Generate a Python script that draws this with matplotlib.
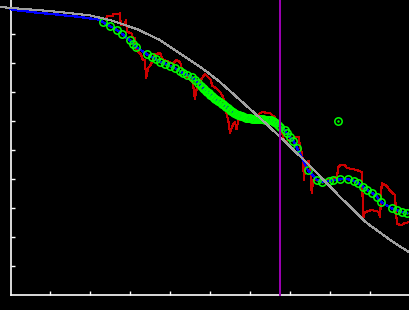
import numpy as np
import matplotlib
matplotlib.use("Agg")
import matplotlib.pyplot as plt

# reference curve (gray)
ref_x = [-0.26, 0.36, 0.99, 1.49, 1.99, 2.49, 3.16, 3.74, 4.49, 4.89, 5.24,
         5.74, 6.24, 6.74, 7.49, 8.24, 8.91, 9.49, 9.99]
ref_y = [9.93, 9.86, 9.79, 9.72, 9.64, 9.48, 9.17, 8.79, 8.10, 7.72, 7.34,
         6.72, 6.10, 5.45, 4.45, 3.38, 2.48, 1.90, 1.45]

# blue lead-in before the smoothed points
lead_x = [-0.01, 0.24, 0.49, 0.69, 0.94, 1.19, 1.41, 1.66, 1.91, 2.16]
lead_y = [9.86, 9.80, 9.77, 9.73, 9.70, 9.67, 9.63, 9.60, 9.55, 9.51]

# smoothed points (green circles)
fit_x = [2.31, 2.50, 2.66, 2.80, 2.98, 3.06, 3.15, 3.41, 3.53, 3.63, 3.73,
         3.86, 3.98, 4.11, 4.24, 4.32, 4.42, 4.53, 4.62, 4.70, 4.76, 4.82,
         4.84, 4.88, 4.92, 4.96, 5.00, 5.04, 5.08, 5.12, 5.16, 5.20, 5.24,
         5.28, 5.32, 5.36, 5.40, 5.44, 5.48, 5.52, 5.56, 5.60, 5.64, 5.68,
         5.72, 5.76, 5.80, 5.84, 5.88, 5.92, 5.96, 6.00, 6.04, 6.08, 6.12,
         6.16, 6.20, 6.24, 6.28, 6.32, 6.36, 6.40, 6.44, 6.48, 6.52, 6.56,
         6.60, 6.64, 6.68, 6.74, 6.86, 6.91, 6.99, 7.07, 7.16, 7.43, 7.66,
         7.78, 7.97, 8.07, 8.24, 8.45, 8.59, 8.70, 8.82, 8.92, 9.03, 9.16,
         9.26, 9.53, 9.66, 9.78, 9.91]
fit_y = [9.41, 9.26, 9.14, 8.99, 8.78, 8.66, 8.55, 8.30, 8.21, 8.14, 8.05,
         7.98, 7.91, 7.82, 7.73, 7.64, 7.59, 7.51, 7.42, 7.30, 7.22, 7.13,
         7.10, 7.05, 7.00, 6.95, 6.90, 6.86, 6.81, 6.77, 6.72, 6.68, 6.64,
         6.60, 6.57, 6.53, 6.49, 6.44, 6.39, 6.35, 6.31, 6.27, 6.24, 6.21,
         6.19, 6.17, 6.16, 6.14, 6.12, 6.11, 6.10, 6.09, 6.08, 6.07, 6.07,
         6.07, 6.06, 6.06, 6.06, 6.06, 6.05, 6.05, 6.04, 6.04, 6.03, 6.01,
         5.98, 5.93, 5.87, 5.80, 5.69, 5.58, 5.44, 5.32, 5.08, 4.31, 3.97,
         3.91, 3.94, 3.97, 3.99, 3.99, 3.94, 3.85, 3.73, 3.62, 3.53, 3.39,
         3.22, 2.99, 2.93, 2.87, 2.84]

outlier_x = [8.19]
outlier_y = [6.00]

# raw signal (red)
raw_x = [2.39, 2.41, 2.56, 2.56, 2.72, 2.73, 2.76, 2.84, 2.89, 2.91, 3.03,
         3.03, 3.11, 3.11, 3.19, 3.26, 3.31, 3.36, 3.39, 3.44, 3.49, 3.56,
         3.61, 3.74, 3.79, 3.84, 3.99, 4.06, 4.14, 4.24, 4.29, 4.44, 4.56,
         4.61, 4.66, 4.76, 4.86, 4.94, 5.01, 5.04, 5.14, 5.24, 5.31, 5.36,
         5.40, 5.45, 5.49, 5.53, 5.56, 5.61, 5.65, 5.70, 5.79, 5.99, 6.14,
         6.24, 6.31, 6.41, 6.49, 6.56, 6.61, 6.69, 6.79, 6.82, 6.86, 6.94,
         7.16, 7.20, 7.24, 7.29, 7.32, 7.34, 7.36, 7.41, 7.45, 7.49, 7.51,
         7.53, 7.57, 7.74, 7.99, 8.16, 8.20, 8.24, 8.36, 8.41, 8.66, 8.78,
         8.82, 8.86, 9.03, 9.20, 9.24, 9.28, 9.41, 9.49, 9.61, 9.66, 9.78,
         9.86, 9.99]
raw_y = [9.48, 9.62, 9.62, 9.69, 9.69, 9.72, 9.31, 9.31, 9.48, 9.08, 9.02,
         8.91, 8.85, 8.56, 8.38, 8.31, 8.10, 8.10, 7.48, 7.83, 7.90, 8.10,
         8.31, 8.34, 8.17, 8.10, 8.03, 7.97, 8.10, 8.03, 7.76, 7.48, 7.31,
         6.76, 7.14, 7.41, 7.62, 7.52, 7.41, 7.21, 7.14, 7.00, 6.83, 6.62,
         6.28, 5.97, 5.59, 5.76, 5.86, 5.98, 5.72, 6.03, 6.14, 6.10, 6.14,
         6.28, 6.31, 6.28, 6.28, 6.17, 6.14, 5.90, 5.62, 5.41, 5.29, 5.34,
         5.46, 5.45, 5.10, 4.86, 4.41, 3.97, 4.41, 4.48, 4.62, 4.31, 4.07,
         3.52, 3.97, 3.97, 3.97, 4.07, 4.41, 4.48, 4.48, 4.38, 4.31, 4.24,
         2.66, 2.86, 2.93, 2.87, 2.70, 3.85, 3.76, 3.59, 3.45, 2.45, 2.41,
         2.48, 2.52]

marker_x = 6.75

plt.rcParams['lines.antialiased'] = False

fig = plt.figure(figsize=(4.1, 3.1), dpi=100, facecolor='black')
ax = fig.add_axes([0, 0, 1, 1])
ax.set_facecolor('black')

y_lo, y_hi = -15 / 29, 295 / 29

ax.plot(raw_x, raw_y, color='#cc0000', lw=0.8, zorder=1)
ax.plot(fit_x + outlier_x, fit_y + outlier_y, ls='none', marker='.',
        ms=1.5, color='#00ff00', zorder=2)
ax.plot(lead_x + fit_x, lead_y + fit_y, color='#0000ff', lw=0.9, zorder=3)
ax.plot(fit_x + outlier_x, fit_y + outlier_y, ls='none', marker='o', ms=5.3,
        mfc='none', mec='#00ff00', mew=1.1, zorder=4)
ax.plot(ref_x, ref_y, color='#a0a0a0', lw=0.8, zorder=5)
ax.plot([marker_x, marker_x], [0, y_hi], color='#9900b0', lw=1.1, zorder=6)

ax.set_xlim(-0.2625, 9.9875)
ax.set_ylim(y_lo, y_hi)
for s in ['top', 'right']:
    ax.spines[s].set_visible(False)
ax.spines['left'].set_position(('data', 0))
ax.spines['bottom'].set_position(('data', 0))
ax.spines['left'].set_bounds(0, y_hi)
ax.spines['bottom'].set_bounds(0, 9.9875)
for s in ['left', 'bottom']:
    ax.spines[s].set_color('white')
    ax.spines[s].set_linewidth(1.2)
ax.set_xticks(np.arange(1, 10))
ax.set_yticks(np.arange(1, 10))
ax.tick_params(direction='in', length=3, width=1, color='white',
               labelbottom=False, labelleft=False)

fig.savefig('out.png', dpi=100, facecolor='black')
